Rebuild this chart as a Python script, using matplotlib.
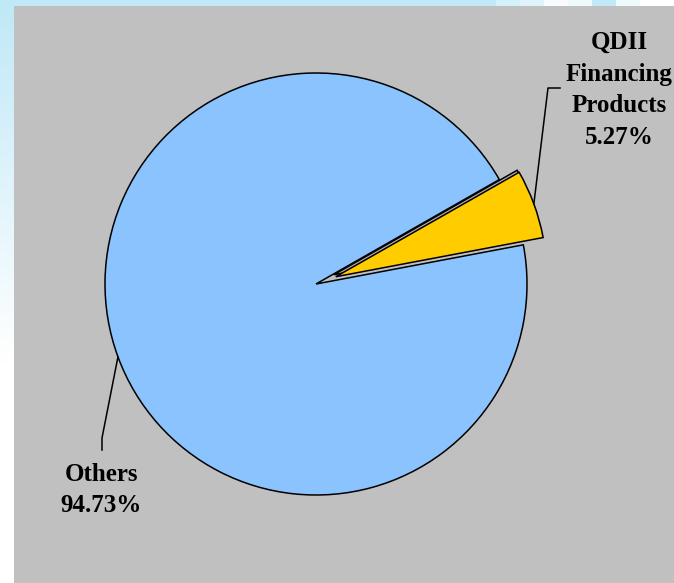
import numpy as np
import matplotlib
matplotlib.use('Agg')
import matplotlib.pyplot as plt
from matplotlib.patches import Rectangle

plt.rcParams['font.family'] = ['Liberation Serif', 'DejaVu Serif']

# data
labels = ['QDII\nFinancing\nProducts', 'Others']
shares = [5.27, 94.73]
colors = ['#FFCC00', '#8BC3FF']
explode = [0.1, 0.0]
start = 10.7

W, H = 674, 583
fig = plt.figure(figsize=(W / 100, H / 100), dpi=100)
fig.patch.set_facecolor('white')

# background: light blue gradient + grey panel
bg = fig.add_axes([0, 0, 1, 1])
bg.set_xlim(0, W)
bg.set_ylim(H, 0)
bg.axis('off')
grad = np.linspace(0, 1, 256).reshape(-1, 1)
top_c = np.array([0.75, 0.91, 0.97])
white = np.array([1.0, 1.0, 1.0])
t = np.clip(grad / 0.62, 0, 1)
img = top_c * (1 - t)[..., None] + white * t[..., None]
img = img.reshape(256, 1, 3)
bg.imshow(img, extent=[0, W, H, 0], aspect='auto')
bg.add_patch(Rectangle((0, 0), W, 6, color='#C0E9F8', lw=0))
for x0, x1, c in [(496, 520, '#D4F0FA'), (520, 544, '#DFF4FB'), (544, 568, '#F8FCFF'),
                  (568, 592, '#EEF9FD'), (592, 616, '#C0E9F8'), (616, 640, '#EEF9FD'),
                  (640, 674, '#FFFFFF')]:
    bg.add_patch(Rectangle((x0, 0), x1 - x0, 6, color=c, lw=0))
bg.add_patch(Rectangle((14, 6), W - 14, H - 6, color='#C0C0C0', lw=0))

# pie axes, 1 unit = 211 px, centre at (316, 284)
R = 211.0
cx, cy = 316, 284
ax = fig.add_axes([0, 0, 1, 1])
ax.patch.set_alpha(0)

# slight 3-d edge under the exploded slice
ax.pie(shares, explode=explode, startangle=start, center=(-2 / R, 2 / R),
       colors=['#B0B0B0', 'none'],
       wedgeprops=dict(edgecolor='black', linewidth=1.1))
wedges, _ = ax.pie(shares, explode=explode, startangle=start, colors=colors,
                   wedgeprops=dict(edgecolor='black', linewidth=1.1))
# 'Others' wedge has no shadow edge
ax.patches[1].set_visible(False)
wedges[1].set_zorder(0.5)

ax.set_xlim(-cx / R, (W - cx) / R)
ax.set_ylim(-(H - cy) / R, cy / R)
ax.set_aspect('equal')
ax.axis('off')

def px(x, y):
    return (x - cx) / R, (cy - y) / R

# leader lines
fr = np.array(shares) / sum(shares)
ang0 = np.deg2rad(start + 360 * fr[0] / 2)
a0 = ((1 + explode[0]) * np.cos(ang0), (1 + explode[0]) * np.sin(ang0))
p1 = px(548, 88)
p2 = px(560, 88)
ax.plot([a0[0], p1[0], p2[0]], [a0[1], p1[1], p2[1]], color='black', lw=1.1)

ang1 = np.deg2rad(start + 360 * (fr[0] + fr[1] / 2))
a1 = (np.cos(ang1), np.sin(ang1))
q1 = px(102, 438)
q2 = px(102, 450)
ax.plot([a1[0], q1[0], q2[0]], [a1[1], q1[1], q2[1]], color='black', lw=1.1)

tx, ty = px(619, 90)
ax.text(tx, ty, '%s\n%.2f%%' % (labels[0], shares[0]), ha='center', va='center',
        fontsize=18, fontweight='bold', linespacing=1.48)
ox, oy = px(101, 490)
ax.text(ox, oy, '%s\n%.2f%%' % (labels[1], shares[1]), ha='center', va='center',
        fontsize=18, fontweight='bold', linespacing=1.48)

fig.savefig('out.png', dpi=100)
